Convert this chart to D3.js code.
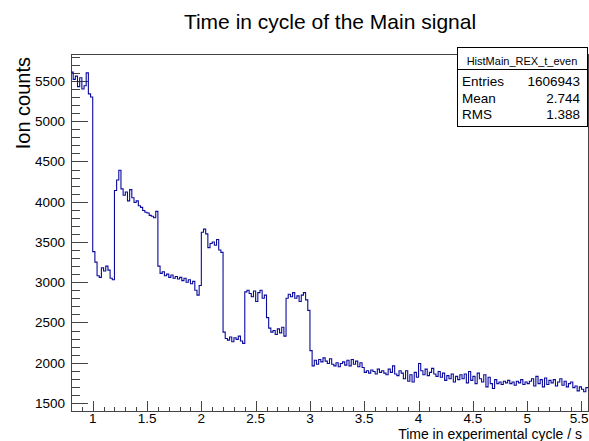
<!DOCTYPE html>
<html>
<head>
<meta charset="utf-8">
<script src="https://cdn.jsdelivr.net/npm/d3@7"></script>
<style>
  body { margin: 0; background: #fff; }
  svg text { font-family: "Liberation Sans", Arial, Helvetica, sans-serif; fill: #000; }
</style>
</head>
<body>
<div id="chart"></div>
<script>
// histogram definition: first/last bin edge in seconds, bin width
const xRange = [0.8, 5.56];
const binWidth = 0.02;

// ion counts per bin
const counts = [
  5610, 5520, 5560, 5430, 5540, 5400, 5440, 5600, 5340, 5300,
  3380, 3250, 3080, 3060, 3180, 3140, 3200, 3150, 3050, 3030,
  4140, 4270, 4390, 4160, 4080, 4120, 4010, 4150, 4050, 3990,
  4010, 3950, 3930, 3890, 3870, 3860, 3830, 3820, 3800, 3880,
  3200, 3110, 3130, 3080, 3100, 3060, 3090, 3050, 3070, 3040,
  3060, 3020, 3050, 3000, 3030, 2980, 3010, 2900, 2840, 2960,
  3620, 3660, 3600, 3430, 3480, 3500, 3460, 3530, 3400, 3370,
  2380, 2300, 2280, 2320, 2260, 2310, 2290, 2330, 2270, 2240,
  2880, 2900, 2860, 2820, 2890, 2760, 2870, 2900, 2800, 2840,
  2560, 2430, 2380, 2400, 2350, 2420, 2370, 2440, 2330, 2800,
  2850, 2820, 2870, 2800, 2830, 2760, 2840, 2870, 2780, 2650,
  2150, 1960, 2030, 1980, 2040, 2010, 2060, 2020, 1990, 2050,
  1980, 1960, 2000, 1950, 1990, 2010, 1970, 2030, 1960, 2040,
  1980, 2020, 1950, 2000, 1940, 1880, 1900, 1870, 1910, 1890,
  1860, 1920, 1880, 1900, 1870, 1850, 1920, 1880, 1960, 1860,
  1840, 1900, 1870, 1800, 1900, 1770, 1850, 1760, 1880, 1820,
  1990, 1900, 1850, 1920, 1840, 1880, 1930, 1860, 1830, 1890,
  1820, 1870, 1780, 1840, 1800, 1860, 1760, 1830, 1790, 1850,
  1800, 1860, 1750, 1890, 1780, 1830, 1740, 1870, 1800, 1760,
  1850, 1700, 1820, 1740, 1680, 1790, 1740, 1760, 1730, 1770,
  1750, 1780, 1740, 1760, 1720, 1770, 1750, 1790, 1730, 1760,
  1740, 1770, 1800, 1710, 1830, 1740, 1790, 1700, 1810, 1730,
  1780, 1750, 1790, 1710, 1760, 1800, 1720, 1770, 1700, 1740,
  1760, 1690, 1710, 1650, 1700, 1670, 1640, 1690
];

const yRange = [1400, 5835];
const xTicks = [1, 1.5, 2, 2.5, 3, 3.5, 4, 4.5, 5, 5.5];
const yTicks = [1500, 2000, 2500, 3000, 3500, 4000, 4500, 5000, 5500];

const title = 'Time in cycle of the Main signal';
const xTitle = 'Time in experimental cycle / s';
const yTitle = 'Ion counts';

const statsName = 'HistMain_REX_t_even';
const statsRows = [['Entries', '1606943'], ['Mean', '2.744'], ['RMS', '1.388']];

const width = 589, height = 441;
const frame = {left: 71, right: 588, top: 54, bottom: 411};

const svg = d3.select('#chart').append('svg')
    .attr('width', width)
    .attr('height', height);

const x = d3.scaleLinear().domain(xRange).range([frame.left, frame.right]);
const y = d3.scaleLinear().domain(yRange).range([frame.bottom, frame.top]);

// title
svg.append('text')
    .attr('x', 330).attr('y', 29)
    .attr('text-anchor', 'middle')
    .style('font-size', '21px')
    .text(title);

// frame
svg.append('rect')
    .attr('x', frame.left + 0.5).attr('y', frame.top + 0.5)
    .attr('width', frame.right - frame.left).attr('height', frame.bottom - frame.top)
    .attr('fill', 'none').attr('stroke', '#444');

// x axis: major ticks every 0.5, minor every 0.1, drawn inward
const xAxis = svg.append('g').attr('transform', `translate(0,${frame.bottom + 0.5})`);
xAxis.call(d3.axisTop(x).tickValues(d3.range(0.9, 5.56, 0.1)).tickSize(5).tickFormat(''))
xAxis.append('g').call(d3.axisTop(x).tickValues(xTicks).tickSize(10.5).tickFormat(''));
xAxis.selectAll('.domain').remove();
xAxis.selectAll('line').attr('stroke', '#444').attr('shape-rendering', 'crispEdges');
// last label sits against the right edge, keep it inside the page
const xLabels = svg.append('g').selectAll('text')
    .data(xTicks)
    .join('text')
    .attr('x', d => x(d)).attr('y', 423)
    .attr('text-anchor', 'middle')
    .style('font-size', '13.5px')
    .text(d => d);
xLabels.filter((d, i) => i === xTicks.length - 1)
    .attr('x', width - 0.5)
    .attr('text-anchor', 'end');

// y axis: major every 500, minor every 100
const yAxis = svg.append('g').attr('transform', `translate(${frame.left + 0.5},0)`);
yAxis.call(d3.axisRight(y).tickValues(d3.range(1500, 5835, 100)).tickSize(8).tickFormat(''));
yAxis.append('g').call(d3.axisRight(y).tickValues(yTicks).tickSize(16).tickFormat(''));
yAxis.selectAll('.domain').remove();
yAxis.selectAll('line').attr('stroke', '#444').attr('shape-rendering', 'crispEdges');
svg.append('g').selectAll('text')
    .data(yTicks)
    .join('text')
    .attr('x', 65).attr('y', d => y(d) + 5)
    .attr('text-anchor', 'end')
    .style('font-size', '13.5px')
    .text(d => d);

// axis titles
svg.append('text')
    .attr('x', 582).attr('y', 439)
    .attr('text-anchor', 'end')
    .style('font-size', '14px')
    .text(xTitle);
svg.append('text')
    .attr('transform', `translate(30,57) rotate(-90)`)
    .attr('text-anchor', 'end')
    .style('font-size', '20px')
    .text(yTitle);

// histogram outline as a step line
const edges = counts.map((c, i) => xRange[0] + i * binWidth);
const steps = [];
counts.forEach((c, i) => {
    steps.push([edges[i], c]);
    steps.push([i + 1 < counts.length ? edges[i] + binWidth : xRange[1], c]);
});
svg.append('path')
    .datum(steps)
    .attr('fill', 'none')
    .attr('stroke', '#0a0a9c')
    .attr('stroke-width', 1.1)
    .attr('d', d3.line().x(d => x(d[0])).y(d => y(d[1])));

// stats box
const box = svg.append('g');
box.append('rect')
    .attr('x', 457.5).attr('y', 47.5)
    .attr('width', 130).attr('height', 79)
    .attr('fill', '#fff').attr('stroke', '#000');
box.append('line')
    .attr('x1', 457.5).attr('x2', 587.5)
    .attr('y1', 69.5).attr('y2', 69.5)
    .attr('stroke', '#000');
box.append('text')
    .attr('x', 522).attr('y', 65)
    .attr('text-anchor', 'middle')
    .style('font-size', '11px')
    .text(statsName);
box.selectAll('text.label')
    .data(statsRows)
    .join('text')
    .classed('label', true)
    .attr('x', 462).attr('y', (d, i) => 86 + i * 16.5)
    .style('font-size', '13.5px')
    .text(d => d[0]);
box.selectAll('text.value')
    .data(statsRows)
    .join('text')
    .classed('value', true)
    .attr('x', 580).attr('y', (d, i) => 86 + i * 16.5)
    .attr('text-anchor', 'end')
    .style('font-size', '13.5px')
    .text(d => d[1]);
</script>
</body>
</html>
